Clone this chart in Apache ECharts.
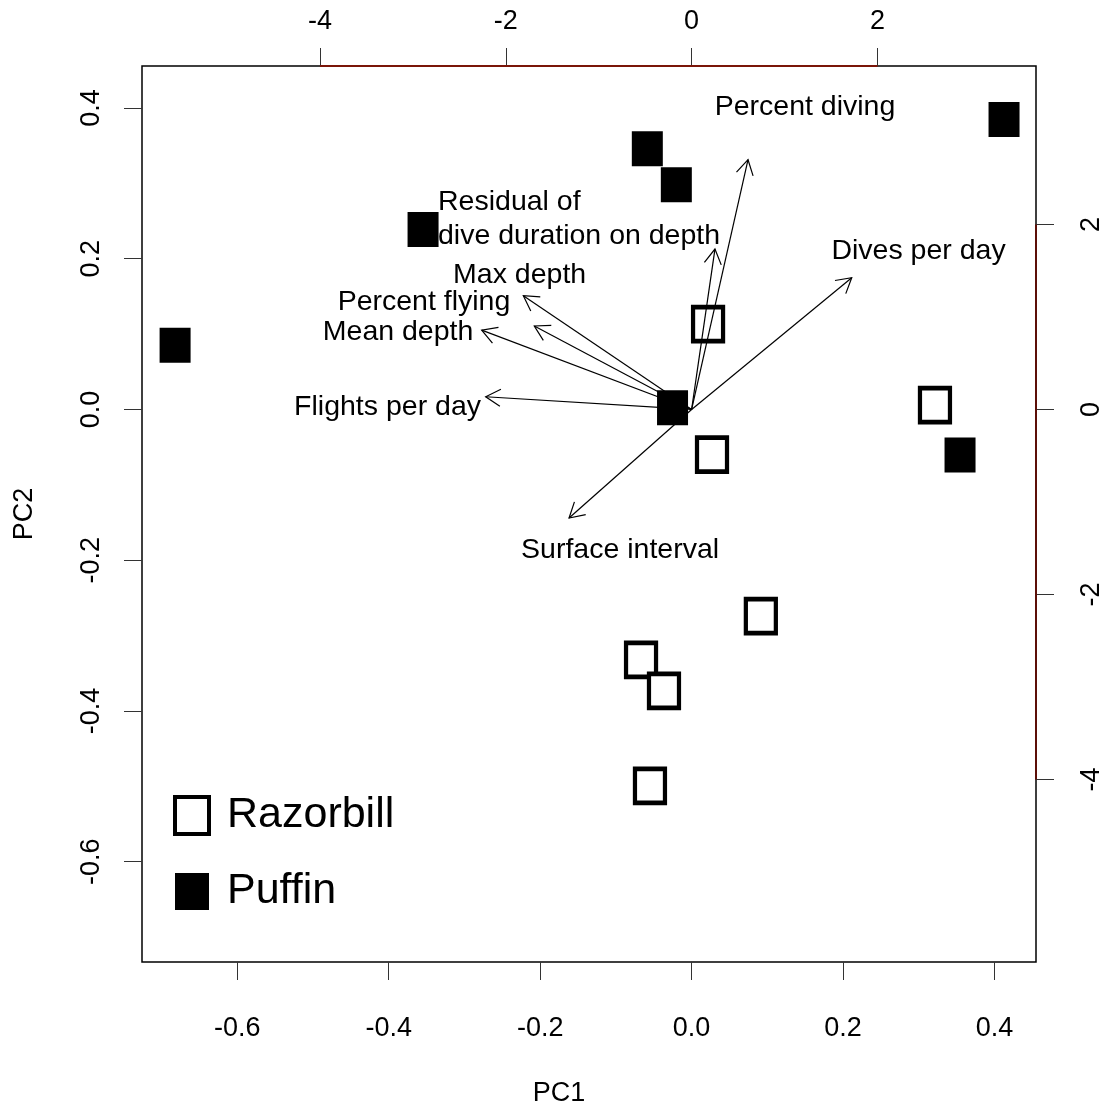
<!DOCTYPE html>
<html>
<head>
<meta charset="utf-8">
<script src="https://cdn.jsdelivr.net/npm/echarts@6/dist/echarts.min.js"></script>
<style>
html,body{margin:0;padding:0;background:#fff;}
#chart{width:1109px;height:1106px;}
</style>
</head>
<body>
<div id="chart"></div>
<script>
// ---- data ----
// Scores (bottom / left axes: PC1, PC2)
var razorbillPC1 = [0.0217, 0.3213, 0.0269, 0.0914, -0.0668, -0.0365, -0.0550];
var razorbillPC2 = [0.1133, 0.0058, -0.0598, -0.2743, -0.3322, -0.3733, -0.4993];
var puffinPC1 = [0.4125, -0.0585, -0.0202, -0.3546, -0.6820, -0.0252, 0.3544];
var puffinPC2 = [0.3846, 0.3457, 0.2981, 0.2387, 0.0850, 0.0021, -0.0605];

// Loadings (top / right axes): arrow tips
var varNames = ['Percent diving', 'Residual of\ndive duration on depth', 'Dives per day', 'Max depth',
                'Percent flying', 'Mean depth', 'Flights per day', 'Surface interval'];
var loadX = [0.607, 0.251, 1.723, -1.811, -1.693, -2.259, -2.216, -1.319];
var loadY = [2.700, 1.734, 1.424, 1.229, 0.902, 0.858, 0.137, -1.174];
// label anchor points (same axes)
var labelX = [1.220, -2.729, 2.442, -1.851, -2.880, -3.159, -3.272, -0.770];
var labelY = [3.269, 2.058, 1.716, 1.453, 1.161, 0.837, 0.026, -1.518];

// axis ranges and ticks
var pc1Range = [-0.7257, 0.4547];
var pc2Range = [-0.733, 0.4556];
var ratio = 8.15;
var bottomTicks = [-0.6, -0.4, -0.2, 0.0, 0.2, 0.4];
var leftTicks = [-0.6, -0.4, -0.2, 0.0, 0.2, 0.4];
var topTicks = [-4, -2, 0, 2];
var rightTicks = [-4, -2, 0, 2];

var FONT = '"Liberation Sans", Arial, Helvetica, sans-serif';

function zip(a, b) { return a.map(function (v, i) { return [v, b[i]]; }); }

var arrowData = varNames.map(function (n, i) {
  return [loadX[i], loadY[i], labelX[i], labelY[i], i];
});

function renderArrow(params, api) {
  var o = api.coord([0, 0]);
  var t = api.coord([api.value(0), api.value(1)]);
  var l = api.coord([api.value(2), api.value(3)]);
  var idx = api.value(4);
  var ang = Math.atan2(t[1] - o[1], t[0] - o[0]);
  var hl = 17, ha = Math.PI / 6;
  var p1 = [t[0] - hl * Math.cos(ang - ha), t[1] - hl * Math.sin(ang - ha)];
  var p2 = [t[0] - hl * Math.cos(ang + ha), t[1] - hl * Math.sin(ang + ha)];
  var name = varNames[idx];
  var multi = name.indexOf('\n') >= 0;
  return {
    type: 'group',
    children: [
      { type: 'line', shape: { x1: o[0], y1: o[1], x2: t[0], y2: t[1] }, style: { stroke: '#000', lineWidth: 1.2 } },
      { type: 'polyline', shape: { points: [p1, t, p2] }, style: { stroke: '#000', lineWidth: 1.2, fill: null } },
      { type: 'text', x: l[0], y: l[1], style: {
          text: name, fill: '#000', font: '28.5px ' + FONT,
          align: multi ? 'left' : 'center', verticalAlign: 'middle', lineHeight: 34 } }
    ]
  };
}

var chart = echarts.init(document.getElementById('chart'), null, { renderer: 'canvas' });

var tickLabelStyle = { color: '#000', fontSize: 27, fontFamily: FONT };
var tickLine = { color: '#333', width: 1 };

var option = {
  backgroundColor: '#fff',
  animation: false,
  grid: { left: 142, top: 66, width: 894, height: 896, show: true, borderColor: '#000', borderWidth: 1.5,
          backgroundColor: 'transparent', containLabel: false, outerBoundsMode: 'none' },
  legend: {
    orient: 'vertical', left: 173, top: 794, itemGap: 33, padding: 0,
    itemWidth: 34, itemHeight: 37,
    textStyle: { color: '#000', fontSize: 43, fontFamily: FONT, lineHeight: 42, padding: [0, 0, 0, 13] },
    data: [
      { name: 'Razorbill', icon: 'rect', itemStyle: { color: '#fff', borderColor: '#000', borderWidth: 4 } },
      { name: 'Puffin', icon: 'rect', itemStyle: { color: '#000', borderWidth: 0 } }
    ]
  },
  xAxis: [
    { type: 'value', position: 'bottom', min: pc1Range[0], max: pc1Range[1],
      name: 'PC1', nameLocation: 'middle', nameGap: 118,
      nameTextStyle: { color: '#000', fontSize: 27, fontFamily: FONT, padding: [0, 60, 0, 0] },
      axisLine: { show: false, onZero: false }, splitLine: { show: false },
      axisTick: { show: true, inside: false, length: 18, customValues: bottomTicks, lineStyle: tickLine },
      axisLabel: { customValues: bottomTicks, margin: 53, formatter: function (v) { return v.toFixed(1); }, ...tickLabelStyle } },
    { type: 'value', position: 'top', min: pc1Range[0] * ratio, max: pc1Range[1] * ratio,
      axisLine: { show: false, onZero: false }, splitLine: { show: false },
      axisTick: { show: true, inside: false, length: 18, customValues: topTicks, lineStyle: tickLine },
      axisLabel: { customValues: topTicks, margin: 31, formatter: function (v) { return String(v); }, ...tickLabelStyle } }
  ],
  yAxis: [
    { type: 'value', position: 'left', min: pc2Range[0], max: pc2Range[1],
      name: 'PC2', nameLocation: 'middle', nameGap: 104, nameRotate: 90,
      nameTextStyle: { color: '#000', fontSize: 27, fontFamily: FONT },
      axisLine: { show: false, onZero: false }, splitLine: { show: false },
      axisTick: { show: true, inside: false, length: 18, customValues: leftTicks, lineStyle: tickLine },
      axisLabel: { customValues: leftTicks, rotate: 90, margin: 37, formatter: function (v) { return v.toFixed(1); }, ...tickLabelStyle } },
    { type: 'value', position: 'right', min: pc2Range[0] * ratio, max: pc2Range[1] * ratio,
      axisLine: { show: false, onZero: false }, splitLine: { show: false },
      axisTick: { show: true, inside: false, length: 18, customValues: rightTicks, lineStyle: tickLine },
      axisLabel: { customValues: rightTicks, rotate: 90, margin: 42, formatter: function (v) { return String(v); }, ...tickLabelStyle } }
  ],
  series: [
    { name: 'Razorbill', type: 'scatter', xAxisIndex: 0, yAxisIndex: 0,
      symbol: 'rect', symbolSize: [30, 34],
      itemStyle: { color: '#fff', borderColor: '#000', borderWidth: 4.5, opacity: 1 },
      data: zip(razorbillPC1, razorbillPC2), z: 3 },
    { name: 'Puffin', type: 'scatter', xAxisIndex: 0, yAxisIndex: 0,
      symbol: 'rect', symbolSize: [31, 35],
      itemStyle: { color: '#000', opacity: 1 },
      data: zip(puffinPC1, puffinPC2), z: 3 },
    { name: 'topAxisLine', type: 'line', xAxisIndex: 1, yAxisIndex: 1, symbol: 'none', silent: true,
      lineStyle: { color: '#7a1508', width: 2 }, clip: false, z: 6,
      data: [[topTicks[0], pc2Range[1] * ratio], [topTicks[topTicks.length - 1], pc2Range[1] * ratio]] },
    { name: 'rightAxisLine', type: 'line', xAxisIndex: 1, yAxisIndex: 1, symbol: 'none', silent: true,
      lineStyle: { color: '#5c0f08', width: 2 }, clip: false, z: 6,
      data: [[pc1Range[1] * ratio, rightTicks[0]], [pc1Range[1] * ratio, rightTicks[rightTicks.length - 1]]] },
    { name: 'loadings', type: 'custom', xAxisIndex: 1, yAxisIndex: 1, clip: false, z: 5,
      renderItem: renderArrow, data: arrowData }
  ]
};
chart.setOption(option);
</script>
</body>
</html>
